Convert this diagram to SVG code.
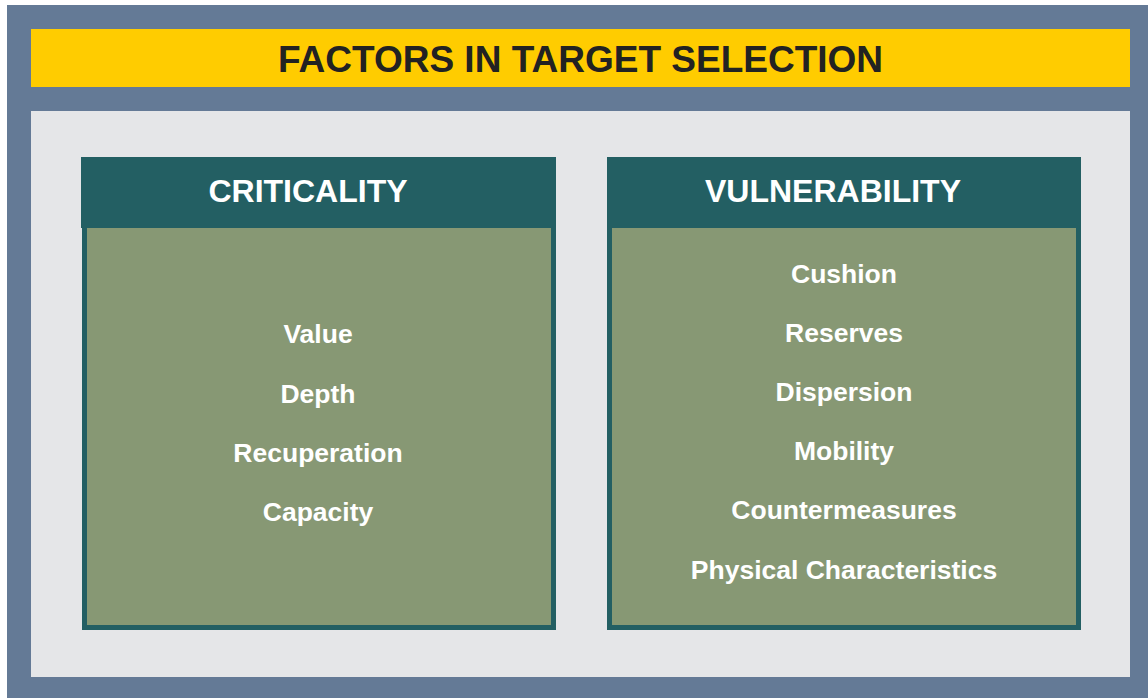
<svg xmlns="http://www.w3.org/2000/svg" width="1148" height="698" viewBox="0 0 1148 698">
<style>
.hdr{fill:#235f63}
.body{fill:#879874;stroke:#235f63;stroke-width:5}
.t{font-family:"Liberation Sans",Arial,sans-serif;font-weight:bold;text-anchor:middle}
.h{fill:#ffffff;font-size:32px}
.i{fill:#ffffff;font-size:26.5px}
</style>
<rect x="0" y="0" width="1148" height="698" fill="#ffffff"/>
<rect x="7" y="5" width="1141" height="693" fill="#647a96"/>
<rect x="31" y="29" width="1099" height="58" fill="#ffcc00"/>
<text class="t" x="580.5" y="72" font-size="37" fill="#222222">FACTORS IN TARGET SELECTION</text>
<rect x="31" y="111" width="1099" height="566" fill="#e5e6e8"/>
<g id="criticality">
<rect class="body" x="84.5" y="225.5" width="469" height="402"/>
<rect class="hdr" x="81" y="157" width="475" height="71"/>
<text class="t h" x="308" y="202">CRITICALITY</text>
<text class="t i" x="318" y="343">Value</text>
<text class="t i" x="318" y="403">Depth</text>
<text class="t i" x="318" y="462">Recuperation</text>
<text class="t i" x="318" y="521">Capacity</text>
</g>
<g id="vulnerability">
<rect class="body" x="609.5" y="225.5" width="469" height="402"/>
<rect class="hdr" x="607" y="157" width="474" height="71"/>
<text class="t h" x="833" y="202">VULNERABILITY</text>
<text class="t i" x="844" y="283">Cushion</text>
<text class="t i" x="844" y="342">Reserves</text>
<text class="t i" x="844" y="401">Dispersion</text>
<text class="t i" x="844" y="460">Mobility</text>
<text class="t i" x="844" y="519">Countermeasures</text>
<text class="t i" x="844" y="579">Physical Characteristics</text>
</g>
<g id="connectors"/>
</svg>
